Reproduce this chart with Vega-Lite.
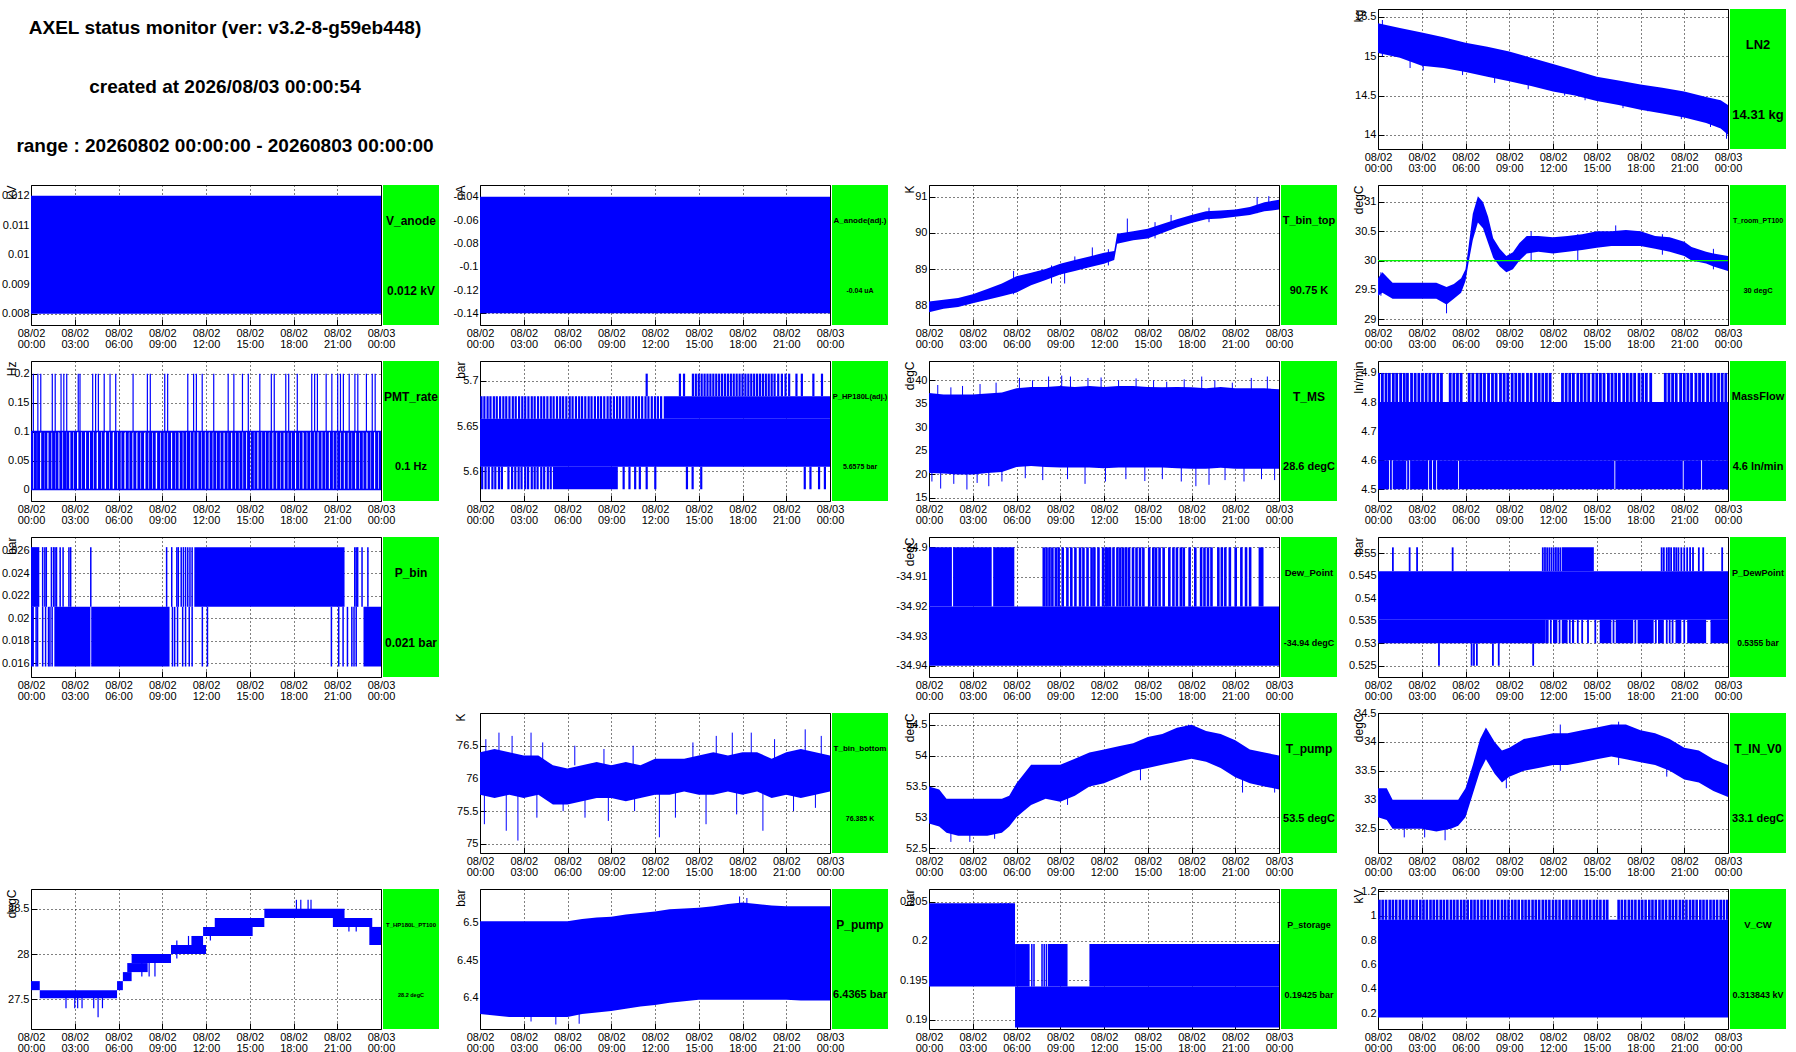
{
  "$schema": "https://vega.github.io/schema/vega-lite/v6.json",
  "background": "white",
  "padding": {"left": 0, "top": 3, "right": 0, "bottom": 0},
  "datasets": {
    "head": [
      {"line": 1, "text": "AXEL status monitor (ver: v3.2-8-g59eb448)"},
      {"line": 2, "text": "created at 2026/08/03 00:00:54"},
      {"line": 3, "text": "range : 20260802 00:00:00 - 20260803 00:00:00"}
    ],
    "info": [
      {"p": "LN2", "name": "LN2", "reading": "14.31 kg"},
      {"p": "V_anode", "name": "V_anode", "reading": "0.012 kV"},
      {"p": "A_anode", "name": "A_anode(adj.)", "reading": "-0.04 uA"},
      {"p": "T_bin_top", "name": "T_bin_top", "reading": "90.75 K"},
      {"p": "T_room", "name": "T_room_PT100", "reading": "30 degC"},
      {"p": "PMT_rate", "name": "PMT_rate", "reading": "0.1 Hz"},
      {"p": "P_HP180L", "name": "P_HP180L(adj.)", "reading": "5.6575 bar"},
      {"p": "T_MS", "name": "T_MS", "reading": "28.6 degC"},
      {"p": "MassFlow", "name": "MassFlow", "reading": "4.6 ln/min"},
      {"p": "P_bin", "name": "P_bin", "reading": "0.021 bar"},
      {"p": "Dew_Point", "name": "Dew_Point", "reading": "-34.94 degC"},
      {"p": "P_DewPoint", "name": "P_DewPoint", "reading": "0.5355 bar"},
      {"p": "T_bin_bottom", "name": "T_bin_bottom", "reading": "76.385 K"},
      {"p": "T_pump", "name": "T_pump", "reading": "53.5 degC"},
      {"p": "T_IN_V0", "name": "T_IN_V0", "reading": "33.1 degC"},
      {"p": "T_HP180L", "name": "T_HP180L_PT100", "reading": "28.2 degC"},
      {"p": "P_pump", "name": "P_pump", "reading": "6.4365 bar"},
      {"p": "P_storage", "name": "P_storage", "reading": "0.19425 bar"},
      {"p": "V_CW", "name": "V_CW", "reading": "0.313843 kV"}
    ],
    "band": [
      {"p": "LN2", "h": [0,1.5,3,4.5,6,7.5,9,10.5,12,13.5,15,16.5,18,19.5,21,22.5,23.5,24],
        "lo": [15.04,14.98,14.88,14.85,14.80,14.74,14.68,14.62,14.55,14.50,14.43,14.38,14.32,14.27,14.22,14.15,14.08,14.00],
        "hi": [15.42,15.36,15.30,15.24,15.17,15.12,15.06,14.98,14.90,14.82,14.74,14.69,14.64,14.60,14.55,14.48,14.44,14.38]},
      {"p": "T_bin_top", "h": [0,1,2,3,4,5,6,7,8,9,10,11,12,12.7,12.9,14,15,16,17,18,19,20,21,22,23,24],
        "lo": [87.8,87.9,87.95,88.05,88.15,88.25,88.35,88.55,88.7,88.85,88.95,89.05,89.15,89.25,89.7,89.8,89.85,90.0,90.15,90.28,90.38,90.4,90.45,90.5,90.6,90.65],
        "hi": [88.1,88.15,88.2,88.3,88.45,88.6,88.8,88.9,89.0,89.15,89.25,89.35,89.45,89.5,89.98,90.05,90.12,90.25,90.38,90.5,90.6,90.62,90.65,90.72,90.85,90.92]},
      {"p": "T_room", "h": [0,0.3,1,2,3,4,4.7,5.2,5.7,6.0,6.2,6.5,6.85,7.2,7.55,7.9,8.35,8.8,9.25,9.7,10.2,11,12,13,14,15,16,17,18,19,20,21,21.5,22.5,23,24],
        "lo": [29.4,29.45,29.35,29.35,29.35,29.35,29.25,29.35,29.45,29.65,29.95,30.35,30.65,30.55,30.3,30.05,29.9,29.8,29.85,30.0,30.12,30.15,30.12,30.15,30.18,30.22,30.25,30.25,30.25,30.2,30.15,30.08,30.0,29.95,29.9,29.82],
        "hi": [29.7,29.8,29.62,29.62,29.62,29.62,29.55,29.6,29.7,29.85,30.22,30.8,31.1,31.0,30.75,30.38,30.2,30.08,30.14,30.3,30.42,30.42,30.4,30.42,30.45,30.5,30.5,30.52,30.5,30.42,30.4,30.32,30.23,30.15,30.12,30.08]},
      {"p": "T_MS", "h": [0,1,2,3,4,5,6,7,8,9,10,11,12,13,14,15,16,17,18,19,20,21,22,23,24],
        "lo": [20.3,20.2,20.0,20.0,20.3,20.5,21.6,21.8,21.6,21.5,21.5,21.5,21.3,21.5,21.5,21.5,21.5,21.3,21.2,21.2,21.4,21.2,21.2,21.2,21.2],
        "hi": [37.3,37.0,37.0,37.0,37.2,37.4,38.3,38.6,38.6,38.8,38.6,38.8,38.6,38.8,38.8,38.6,38.5,38.6,38.5,38.3,38.6,38.3,38.3,38.3,38.1]},
      {"p": "T_bin_bottom", "h": [0,1,2,3,4,5,6,7,8,9,10,11,12,13,14,15,16,17,18,19,20,21,22,23,24],
        "lo": [75.75,75.7,75.75,75.7,75.75,75.6,75.6,75.65,75.7,75.7,75.65,75.7,75.75,75.75,75.8,75.75,75.75,75.8,75.75,75.8,75.7,75.75,75.7,75.75,75.8],
        "hi": [76.4,76.45,76.4,76.35,76.35,76.2,76.15,76.2,76.25,76.2,76.25,76.2,76.3,76.3,76.3,76.35,76.4,76.35,76.4,76.4,76.3,76.4,76.45,76.4,76.35]},
      {"p": "T_pump", "h": [0,0.7,1.2,2,3,4,5,5.5,6,6.5,7,8,9,10,11,12,13,14,15,16,17,18,19,20,21,22,23,24],
        "lo": [52.9,52.85,52.75,52.7,52.7,52.7,52.75,52.85,53.0,53.1,53.2,53.3,53.25,53.35,53.5,53.55,53.65,53.75,53.8,53.85,53.9,53.95,53.9,53.8,53.65,53.55,53.5,53.45],
        "hi": [53.5,53.45,53.3,53.3,53.3,53.3,53.3,53.35,53.55,53.7,53.85,53.85,53.85,53.95,54.05,54.1,54.15,54.2,54.3,54.35,54.45,54.5,54.4,54.35,54.25,54.1,54.05,54.0]},
      {"p": "T_IN_V0", "h": [0,0.6,1,2,3,4,5,5.5,6,6.5,7,7.4,8,8.5,9,10,11,12,13,14,15,16,17,18,19,20,21,22,23,24],
        "lo": [32.7,32.65,32.5,32.5,32.5,32.45,32.5,32.55,32.7,33.1,33.5,33.7,33.45,33.3,33.4,33.5,33.55,33.6,33.6,33.65,33.7,33.75,33.7,33.65,33.6,33.5,33.35,33.3,33.15,33.05],
        "hi": [33.2,33.2,33.0,33.0,33.0,33.0,33.0,33.0,33.2,33.6,34.05,34.25,34.0,33.85,33.9,34.05,34.1,34.15,34.15,34.2,34.25,34.3,34.3,34.2,34.15,34.05,33.9,33.85,33.7,33.6]},
      {"p": "P_pump", "h": [0,1,2,3,4,5,6,7,8,9,10,11,12,13,14,15,16,17,18,19,20,21,22,23,24],
        "lo": [6.378,6.376,6.374,6.374,6.374,6.374,6.374,6.378,6.38,6.382,6.385,6.388,6.39,6.393,6.395,6.397,6.397,6.397,6.397,6.397,6.397,6.397,6.396,6.396,6.396],
        "hi": [6.502,6.502,6.502,6.502,6.502,6.502,6.502,6.505,6.507,6.508,6.511,6.513,6.515,6.518,6.519,6.52,6.522,6.525,6.527,6.525,6.523,6.522,6.522,6.522,6.522]}
    ],
    "block": [
      {"p": "V_anode", "h": [0], "h1": [24], "lo": [0.008], "hi": [0.012]},
      {"p": "A_anode", "h": [0], "h1": [24], "lo": [-0.14], "hi": [-0.04]},
      {"p": "P_HP180L", "h": [0,12.6,5.0], "h1": [24,24,9.45], "lo": [5.605,5.658,5.58], "hi": [5.658,5.683,5.605]},
      {"p": "MassFlow", "h": [0,0,0.82,1.01,2.0,2.2,3.5,3.77,4.05,5.55,16.27,20.96,22.22],
        "h1": [24,0.76,0.95,1.94,2.14,3.44,3.71,3.99,5.49,16.21,20.9,22.16,24],
        "lo": [4.6,4.5,4.5,4.5,4.5,4.5,4.5,4.5,4.5,4.5,4.5,4.5,4.5],
        "hi": [4.8,4.6,4.6,4.6,4.6,4.6,4.6,4.6,4.6,4.6,4.6,4.6,4.6]},
      {"p": "P_bin", "h": [0,11.2,0,1.6,4.13,22.8], "h1": [0.57,21.5,0.2,4.07,9.5,24],
        "lo": [0.021,0.021,0.0157,0.0157,0.0157,0.0157], "hi": [0.0263,0.0263,0.021,0.021,0.021,0.021]},
      {"p": "Dew_Point", "h": [0,0,1.65,4.4], "h1": [24,1.57,4.3,5.85],
        "lo": [-34.94,-34.92,-34.92,-34.92], "hi": [-34.92,-34.9,-34.9,-34.9]},
      {"p": "P_DewPoint", "h": [0,0,11.5,12.0,12.6,13.3,15.2,16.3,17.8,19.2,20.4,21.2,22.8,12.6],
        "h1": [24,11.5,11.7,12.3,13.0,13.45,16.0,17.5,18.9,19.6,20.8,22.5,24,14.8],
        "lo": [0.5352,0.53,0.53,0.53,0.53,0.53,0.53,0.53,0.53,0.53,0.53,0.53,0.53,0.546],
        "hi": [0.546,0.5352,0.5352,0.5352,0.5352,0.5352,0.5352,0.5352,0.5352,0.5352,0.5352,0.5352,0.5352,0.5513]},
      {"p": "V_CW", "h": [0], "h1": [24], "lo": [0.164], "hi": [0.967]},
      {"p": "P_storage", "h": [0,5.9,5.9,8.15,11.0], "h1": [5.9,24,6.9,9.5,24],
        "lo": [0.1942,0.189,0.1942,0.1942,0.1942], "hi": [0.2048,0.1942,0.1996,0.1996,0.1996]},
      {"p": "T_HP180L", "h": [0,0.6,5.9,6.3,6.6,6.9,9.6,11.0,11.8,12.6,16.0,20.7,23.2],
        "h1": [0.6,5.9,6.3,6.9,8.0,9.6,12.0,11.8,15.2,16.0,21.5,23.4,24],
        "lo": [27.6,27.51,27.6,27.7,27.8,27.9,28.0,28.1,28.2,28.3,28.4,28.3,28.1],
        "hi": [27.7,27.6,27.7,27.8,27.9,28.0,28.1,28.2,28.3,28.4,28.5,28.4,28.3]}
    ],
    "comb": [
      {"p": "PMT_rate", "lo": 0, "hi": 0.1, "h": [0.05,0.3,0.52,0.8,1.02,1.3,1.55,1.78,2.05,2.3,2.52,2.8,3.05,3.35,3.6,3.88,4.15,4.4,4.7,4.95,5.25,5.5,5.8,6.05,6.3,6.6,6.85,7.12,7.4,7.65,7.95,8.2,8.45,8.75,9.0,9.25,9.5,9.78,10.02,10.3,10.55,10.8,11.05,11.3,11.58,11.82,12.08,12.35,12.6,12.85,13.1,13.38,13.62,13.9,14.15,14.4,14.65,14.92,15.18,15.42,15.7,15.95,16.2,16.45,16.72,16.98,17.22,17.5,17.75,18.0,18.28,18.52,18.8,19.05,19.3,19.55,19.82,20.08,20.32,20.6,20.85,21.1,21.35,21.62,21.88,22.12,22.4,22.65,22.9,23.18,23.42,23.7,23.95]},
      {"p": "PMT_rate", "lo": 0.1, "hi": 0.2, "h": [0.16,0.47,0.67,1.46,1.66,2.06,2.25,2.45,3.24,3.36,4.23,4.43,4.62,5.02,5.42,5.81,7.0,7.98,8.18,9.17,9.37,10.75,11.15,11.34,11.74,12.53,13.52,13.91,14.5,14.9,15.69,16.48,16.68,17.47,17.67,18.26,19.25,19.45,19.64,20.24,20.63,21.03,21.22,21.42,21.82,22.21,22.41,23.0,23.4,23.6]},
      {"p": "P_HP180L", "lo": 5.658, "hi": 5.683, "h": [0.1,0.3,0.52,0.72,0.95,1.15,1.38,1.6,1.8,2.02,2.25,2.45,2.68,2.9,3.1,3.32,3.55,3.75,3.98,4.2,4.4,4.62,4.85,5.05,5.28,5.5,5.7,5.92,6.15,6.35,6.58,6.8,7.0,7.22,7.45,7.65,7.88,8.1,8.3,8.52,8.75,8.95,9.18,9.4,9.6,9.82,10.05,10.25,10.48,10.7,10.9,11.12,11.35,11.55,11.78,12.0,12.2,12.42]},
      {"p": "P_HP180L", "lo": 5.58, "hi": 5.605, "h": [0.15,0.38,0.6,0.85,1.05,1.3,1.5,1.95,2.2,2.42,2.65,2.85,3.1,3.3,3.55,3.75,3.95,4.2,4.4,4.65,4.85,9.85,10.25,10.64,10.96,11.43,12.02,14.19,14.58,15.17,22.27,22.66,23.25,23.65]},
      {"p": "P_HP180L", "lo": 5.683, "hi": 5.708, "h": [11.43,13.71,13.99,14.6,14.8,15.0,15.2,15.4,15.6,15.8,16.0,16.2,16.4,16.6,16.8,17.0,17.2,17.4,17.6,17.8,18.0,18.2,18.4,18.6,18.8,19.0,19.2,19.4,19.6,19.8,20.0,20.2,20.45,20.7,20.95,21.2,21.7,22.07,22.86,23.45]},
      {"p": "MassFlow", "lo": 4.8, "hi": 4.9, "h": [0.05,0.3,0.55,0.78,1.05,1.28,1.55,1.8,2.02,2.3,2.55,2.8,3.05,3.3,3.55,3.82,4.1,4.35,4.95,5.2,5.45,5.7,6.25,6.5,6.8,7.05,7.3,7.58,7.85,8.1,8.4,8.65,8.9,9.2,9.45,9.7,9.95,10.25,10.5,10.8,11.05,11.3,11.55,11.8,12.65,12.9,13.15,13.4,13.7,13.95,14.2,14.45,14.75,15.0,15.25,15.5,15.8,16.05,16.3,16.55,16.85,17.1,17.35,17.6,17.9,18.15,18.4,18.7,19.7,19.95,20.2,20.45,20.75,21.0,21.25,21.5,21.8,22.05,22.3,22.6,22.85,23.1,23.35,23.6,23.85]},
      {"p": "P_bin", "lo": 0.021, "hi": 0.0263, "h": [0.8,0.95,1.05,1.4,1.55,1.65,1.75,2.0,2.2,2.6,2.72,4.1,9.3,9.65,10.0,10.1,10.3,10.45,10.6,10.75,10.9,11.05,22.2,22.3,22.4,22.7,23.1]},
      {"p": "P_bin", "lo": 0.0157, "hi": 0.021, "h": [0.35,0.45,0.8,1.0,1.2,1.3,1.45,9.7,9.85,10.05,10.4,10.6,10.85,11.05,11.75,12.1,20.6,21.1,21.4,21.7,22.0,22.15,22.3]},
      {"p": "Dew_Point", "lo": -34.92, "hi": -34.9, "h": [7.87,8.06,8.26,8.46,8.7,8.89,9.17,9.49,9.76,10.04,10.36,10.59,10.87,11.15,11.34,11.62,11.94,12.13,12.25,12.41,12.65,12.92,13.12,13.32,13.52,13.72,13.99,14.23,14.47,14.7,15.1,15.38,15.57,15.81,16.09,16.48,16.76,17.0,17.27,17.47,17.87,18.26,18.66,18.89,19.13,19.37,19.84,20.08,20.32,20.63,21.03,21.42,21.74,22.02,22.69,22.85]},
      {"p": "P_DewPoint", "lo": 0.53, "hi": 0.5352, "h": [11.85,12.45,13.15,13.7,14.0,14.4,14.9,16.15,17.65,19.05,19.8,20.0,20.2,21.0]},
      {"p": "P_DewPoint", "lo": 0.546, "hi": 0.5513, "h": [1.02,2.17,2.68,5.12,11.3,11.45,11.6,11.75,11.9,12.05,12.2,12.35,12.5,19.45,19.6,19.8,19.95,20.1,20.3,20.45,20.6,20.8,21.0,21.2,21.4,21.6,22.0,22.3,23.6]},
      {"p": "P_DewPoint", "lo": 0.525, "hi": 0.53, "h": [4.18,6.42,6.58,6.78,7.88,8.28,10.64]},
      {"p": "V_CW", "lo": 0.967, "hi": 1.132, "h": [0.1,0.32,0.55,0.8,1.02,1.25,1.5,1.72,1.95,2.2,2.42,2.65,2.9,3.12,3.35,3.6,3.82,4.05,4.3,4.52,4.75,5.0,5.22,5.45,5.7,5.92,6.15,6.4,6.62,6.85,7.1,7.32,7.55,7.8,8.02,8.25,8.5,8.72,8.95,9.2,9.42,9.65,9.9,10.12,10.35,10.6,10.82,11.05,11.3,11.52,11.75,12.0,12.22,12.45,12.7,12.92,13.15,13.4,13.62,13.85,14.1,14.32,14.55,14.8,15.02,15.25,15.5,15.72,16.5,16.72,16.95,17.2,17.42,17.65,17.9,18.12,18.35,18.6,18.82,19.05,19.3,19.52,19.75,20.0,20.22,20.45,20.7,20.92,21.15,21.4,21.62,21.85,22.1,22.32,22.55,22.8,23.02,23.25,23.5,23.72,23.95]},
      {"p": "P_storage", "lo": 0.1996, "hi": 0.2048, "h": [4.9,5.2,5.45]},
      {"p": "P_storage", "lo": 0.1942, "hi": 0.1996, "h": [7.05,7.2,7.75,7.9,8.05]}
    ],
    "spike": [
      {"p": "LN2", "h": [0.3,2.2,3.1,5.8,8.0,10.3,12.8,14.2,16.8,18.5,20.8,22.8,23.9],
        "lo": [15.0,14.85,14.82,14.76,14.66,14.58,14.5,14.44,14.34,14.3,14.2,14.1,13.95],
        "hi": [15.46,15.22,15.12,15.05,14.95,14.85,14.72,14.62,14.52,14.48,14.4,14.3,14.2]},
      {"p": "T_bin_top", "h": [5.8,8.4,9.3,10.0,11.2,12.3,13.6,15.5,16.6,19.2,22.5,23.3],
        "lo": [88.3,88.6,88.6,89.0,89.2,89.1,89.8,89.85,90.1,90.3,90.55,90.7],
        "hi": [88.95,89.1,89.15,89.35,89.6,89.55,90.4,90.3,90.5,90.7,91.0,91.02]},
      {"p": "T_room", "h": [0.2,4.7,10.5,13.7,16.3,19.5,23.0],
        "lo": [29.4,29.1,30.0,30.0,30.3,30.1,29.85],
        "hi": [29.8,29.4,30.5,30.45,30.6,30.45,30.2]},
      {"p": "T_MS", "h": [0.6,1.5,2.3,3.5,4.6,6.2,7.1,8.2,9.1,9.7,10.9,11.8,13.0,14.2,15.4,16.3,17.5,18.7,19.6,20.8,22.1,23.2],
        "lo": [36,36,36,36,36,37,37,37,37,37,37,37,37,37,37,37,37,37,37,37,37,37],
        "hi": [39,38.5,38.8,39.2,39.5,40.5,40,40.8,41,40.8,40.5,40.6,40,40.4,40,39.7,40.2,40.8,40,39.5,40.5,40.8]},
      {"p": "T_MS", "h": [0.2,0.8,1.7,2.6,3.3,4.1,5.0,6.6,7.8,9.5,10.7,12.1,13.5,14.8,16.0,17.3,18.3,19.2,20.3,21.6,22.8,23.7],
        "lo": [18.5,17,18,16.8,18.2,17.5,18.5,19.2,18.8,19,18,18.5,19,18.6,19,18.5,17.5,17.8,18.8,18.5,19,18.8],
        "hi": [22,22,22,22,22,22,22,22,22,22,22,22,22,22,22,22,22,22,22,22,22,22]},
      {"p": "T_bin_bottom", "h": [0.4,1.3,2.2,3.5,4.3,6.5,8.5,10.5,14.6,16.2,17.3,18.6,20.2,22.3,23.4],
        "lo": [76.2,76.2,76.2,76.2,76.2,76.2,76.2,76.2,76.2,76.2,76.2,76.2,76.2,76.2,76.2],
        "hi": [76.6,76.7,76.65,76.7,76.55,76.5,76.45,76.5,76.55,76.65,76.7,76.7,76.6,76.75,76.65]},
      {"p": "T_bin_bottom", "h": [0.3,1.8,2.6,3.9,5.7,7.2,8.8,10.6,12.3,13.4,15.5,17.6,19.4,21.5,23.0],
        "lo": [75.3,75.2,75.05,75.4,75.5,75.4,75.35,75.5,75.1,75.4,75.3,75.45,75.2,75.5,75.55],
        "hi": [75.9,75.9,75.9,75.9,75.9,75.9,75.9,75.9,75.9,75.9,75.9,75.9,75.9,75.9,75.9]},
      {"p": "T_pump", "h": [1.5,2.8,4.5,9.5,14.5,17.8,21.5,23.7],
        "lo": [52.6,52.6,52.65,53.2,53.6,54.2,53.4,53.4],
        "hi": [53.0,52.9,53.0,53.6,54.0,54.5,53.7,53.7]},
      {"p": "T_IN_V0", "h": [1.8,3.2,4.6,8.8,12.5,16.5,19.8],
        "lo": [32.35,32.35,32.3,33.2,33.5,33.6,33.4],
        "hi": [32.7,32.7,32.6,33.5,34.3,34.35,33.7]},
      {"p": "T_HP180L", "h": [2.4,3.0,3.2,3.5,4.3,4.6,4.9,7.6,8.1,8.5,10.0,10.8,12.3,14.2,18.2,18.5,19.0,19.2,21.8,22.3],
        "lo": [27.4,27.4,27.4,27.4,27.4,27.3,27.4,27.75,27.75,27.75,27.95,28.05,28.15,28.2,28.45,28.45,28.45,28.45,28.25,28.25],
        "hi": [27.55,27.55,27.55,27.55,27.55,27.55,27.55,27.9,27.9,27.9,28.15,28.2,28.3,28.35,28.6,28.6,28.6,28.6,28.4,28.4]},
      {"p": "P_pump", "h": [3.5,5.2,6.8,17.8,18.3],
        "lo": [6.368,6.364,6.365,6.5,6.5],
        "hi": [6.39,6.39,6.39,6.535,6.533]}
    ],
    "level": [
      {"p": "PMT_rate", "h": [0,0], "h1": [24,24], "lo": [0.1,0]}
    ],
    "ref": [
      {"p": "T_room", "h": [0], "h1": [24], "lo": [30]}
    ]
  },
  "columns": 11,
  "bounds": "flush",
  "spacing": {"row": 36, "column": 2},
  "concat": [
    {"width": 350, "height": 140, "data": {"name": "head"},
      "mark": {"type": "text", "fontSize": 19, "fontWeight": "bold", "baseline": "alphabetic", "dx": 19},
      "encoding": {
        "y": {"field": "line", "type": "quantitative", "scale": {"domain": [0.568, 2.949], "reverse": true, "nice": false, "zero": false}, "axis": null},
        "text": {"field": "text"}
      }},
    {"width": 56, "height": 1, "data": {"values": [{}]}, "mark": {"type": "text", "text": ""}},
    {"width": 37, "height": 1, "data": {"values": [{}]}, "mark": {"type": "text", "text": ""}},
    {"width": 1, "height": 1, "data": {"values": [{}]}, "mark": {"type": "text", "text": ""}},
    {"width": 1, "height": 1, "data": {"values": [{}]}, "mark": {"type": "text", "text": ""}},
    {"width": 37, "height": 1, "data": {"values": [{}]}, "mark": {"type": "text", "text": ""}},
    {"width": 1, "height": 1, "data": {"values": [{}]}, "mark": {"type": "text", "text": ""}},
    {"width": 1, "height": 1, "data": {"values": [{}]}, "mark": {"type": "text", "text": ""}},
    {"width": 37, "height": 1, "data": {"values": [{}]}, "mark": {"type": "text", "text": ""}},
    {"width": 350, "height": 140, "view": {"stroke": "#000000"},
      "encoding": {
        "x": {"field": "h", "type": "quantitative", "scale": {"domain": [0, 24], "nice": false, "zero": false}, "axis": {"values": [0,3,6,9,12,15,18,21,24], "title": null, "labelExpr": "[datum.value < 24 ? '08/02' : '08/03', (datum.value % 24 < 10 ? '0' : '') + (datum.value % 24) + ':00']"}},
        "y": {"field": "lo", "type": "quantitative", "scale": {"domain": [13.82, 15.6], "nice": false, "zero": false}, "axis": {"values": [14,14.5,15,15.5], "format": "~g", "title": "kg"}}
      },
      "layer": [
        {"data": {"name": "band"}, "transform": [{"filter": "datum.p=='LN2'"}, {"flatten": ["h","lo","hi"]}], "mark": {"type": "area", "color": "#0000ff", "clip": true}, "encoding": {"y2": {"field": "hi"}}},
        {"data": {"name": "spike"}, "transform": [{"filter": "datum.p=='LN2'"}, {"flatten": ["h","lo","hi"]}], "mark": {"type": "rule", "color": "#0000ff", "strokeWidth": 1, "clip": true}, "encoding": {"y2": {"field": "hi"}}}
      ]},
    {"width": 56, "height": 140, "view": {"fill": "#00ff00", "stroke": null}, "data": {"name": "info"}, "transform": [{"filter": "datum.p=='LN2'"}],
      "layer": [
        {"mark": {"type": "text", "fontWeight": "bold", "fontSize": 13, "dy": -34}, "encoding": {"text": {"field": "name"}}},
        {"mark": {"type": "text", "fontWeight": "bold", "fontSize": 13, "dy": 36}, "encoding": {"text": {"field": "reading"}}}
      ]},

    {"width": 350, "height": 140, "view": {"stroke": "#000000"},
      "encoding": {
        "x": {"field": "h", "type": "quantitative", "scale": {"domain": [0, 24], "nice": false, "zero": false}, "axis": {"values": [0,3,6,9,12,15,18,21,24], "title": null, "labelExpr": "[datum.value < 24 ? '08/02' : '08/03', (datum.value % 24 < 10 ? '0' : '') + (datum.value % 24) + ':00']"}},
        "y": {"field": "lo", "type": "quantitative", "scale": {"domain": [0.00762, 0.01236], "nice": false, "zero": false}, "axis": {"values": [0.008,0.009,0.01,0.011,0.012], "format": "~g", "title": "kV"}}
      },
      "layer": [
        {"data": {"name": "block"}, "transform": [{"filter": "datum.p=='V_anode'"}, {"flatten": ["h","h1","lo","hi"]}], "mark": {"type": "rect", "color": "#0000ff", "clip": true}, "encoding": {"x2": {"field": "h1"}, "y2": {"field": "hi"}}}
      ]},
    {"width": 56, "height": 140, "view": {"fill": "#00ff00", "stroke": null}, "data": {"name": "info"}, "transform": [{"filter": "datum.p=='V_anode'"}],
      "layer": [
        {"mark": {"type": "text", "fontWeight": "bold", "fontSize": 12, "dy": -34}, "encoding": {"text": {"field": "name"}}},
        {"mark": {"type": "text", "fontWeight": "bold", "fontSize": 12, "dy": 36}, "encoding": {"text": {"field": "reading"}}}
      ]},
    {"width": 37, "height": 1, "data": {"values": [{}]}, "mark": {"type": "text", "text": ""}},
    {"width": 350, "height": 140, "view": {"stroke": "#000000"},
      "encoding": {
        "x": {"field": "h", "type": "quantitative", "scale": {"domain": [0, 24], "nice": false, "zero": false}, "axis": {"values": [0,3,6,9,12,15,18,21,24], "title": null, "labelExpr": "[datum.value < 24 ? '08/02' : '08/03', (datum.value % 24 < 10 ? '0' : '') + (datum.value % 24) + ':00']"}},
        "y": {"field": "lo", "type": "quantitative", "scale": {"domain": [-0.15, -0.03], "nice": false, "zero": false}, "axis": {"values": [-0.14,-0.12,-0.1,-0.08,-0.06,-0.04], "format": "~g", "title": "uA"}}
      },
      "layer": [
        {"data": {"name": "block"}, "transform": [{"filter": "datum.p=='A_anode'"}, {"flatten": ["h","h1","lo","hi"]}], "mark": {"type": "rect", "color": "#0000ff", "clip": true}, "encoding": {"x2": {"field": "h1"}, "y2": {"field": "hi"}}}
      ]},
    {"width": 56, "height": 140, "view": {"fill": "#00ff00", "stroke": null}, "data": {"name": "info"}, "transform": [{"filter": "datum.p=='A_anode'"}],
      "layer": [
        {"mark": {"type": "text", "fontWeight": "bold", "fontSize": 8, "dy": -34}, "encoding": {"text": {"field": "name"}}},
        {"mark": {"type": "text", "fontWeight": "bold", "fontSize": 7, "dy": 36}, "encoding": {"text": {"field": "reading"}}}
      ]},
    {"width": 37, "height": 1, "data": {"values": [{}]}, "mark": {"type": "text", "text": ""}},
    {"width": 350, "height": 140, "view": {"stroke": "#000000"},
      "encoding": {
        "x": {"field": "h", "type": "quantitative", "scale": {"domain": [0, 24], "nice": false, "zero": false}, "axis": {"values": [0,3,6,9,12,15,18,21,24], "title": null, "labelExpr": "[datum.value < 24 ? '08/02' : '08/03', (datum.value % 24 < 10 ? '0' : '') + (datum.value % 24) + ':00']"}},
        "y": {"field": "lo", "type": "quantitative", "scale": {"domain": [87.45, 91.33], "nice": false, "zero": false}, "axis": {"values": [88,89,90,91], "format": "~g", "title": "K"}}
      },
      "layer": [
        {"data": {"name": "band"}, "transform": [{"filter": "datum.p=='T_bin_top'"}, {"flatten": ["h","lo","hi"]}], "mark": {"type": "area", "color": "#0000ff", "clip": true}, "encoding": {"y2": {"field": "hi"}}},
        {"data": {"name": "spike"}, "transform": [{"filter": "datum.p=='T_bin_top'"}, {"flatten": ["h","lo","hi"]}], "mark": {"type": "rule", "color": "#0000ff", "strokeWidth": 1, "clip": true}, "encoding": {"y2": {"field": "hi"}}}
      ]},
    {"width": 56, "height": 140, "view": {"fill": "#00ff00", "stroke": null}, "data": {"name": "info"}, "transform": [{"filter": "datum.p=='T_bin_top'"}],
      "layer": [
        {"mark": {"type": "text", "fontWeight": "bold", "fontSize": 11, "dy": -34}, "encoding": {"text": {"field": "name"}}},
        {"mark": {"type": "text", "fontWeight": "bold", "fontSize": 11, "dy": 36}, "encoding": {"text": {"field": "reading"}}}
      ]},
    {"width": 37, "height": 1, "data": {"values": [{}]}, "mark": {"type": "text", "text": ""}},
    {"width": 350, "height": 140, "view": {"stroke": "#000000"},
      "encoding": {
        "x": {"field": "h", "type": "quantitative", "scale": {"domain": [0, 24], "nice": false, "zero": false}, "axis": {"values": [0,3,6,9,12,15,18,21,24], "title": null, "labelExpr": "[datum.value < 24 ? '08/02' : '08/03', (datum.value % 24 < 10 ? '0' : '') + (datum.value % 24) + ':00']"}},
        "y": {"field": "lo", "type": "quantitative", "scale": {"domain": [28.9, 31.29], "nice": false, "zero": false}, "axis": {"values": [29,29.5,30,30.5,31], "format": "~g", "title": "degC"}}
      },
      "layer": [
        {"data": {"name": "band"}, "transform": [{"filter": "datum.p=='T_room'"}, {"flatten": ["h","lo","hi"]}], "mark": {"type": "area", "color": "#0000ff", "clip": true}, "encoding": {"y2": {"field": "hi"}}},
        {"data": {"name": "spike"}, "transform": [{"filter": "datum.p=='T_room'"}, {"flatten": ["h","lo","hi"]}], "mark": {"type": "rule", "color": "#0000ff", "strokeWidth": 1, "clip": true}, "encoding": {"y2": {"field": "hi"}}},
        {"data": {"name": "ref"}, "transform": [{"filter": "datum.p=='T_room'"}, {"flatten": ["h","h1","lo"]}], "mark": {"type": "rule", "color": "#00ff00", "strokeWidth": 1.2, "clip": true}, "encoding": {"x2": {"field": "h1"}}}
      ]},
    {"width": 56, "height": 140, "view": {"fill": "#00ff00", "stroke": null}, "data": {"name": "info"}, "transform": [{"filter": "datum.p=='T_room'"}],
      "layer": [
        {"mark": {"type": "text", "fontWeight": "bold", "fontSize": 7, "dy": -34}, "encoding": {"text": {"field": "name"}}},
        {"mark": {"type": "text", "fontWeight": "bold", "fontSize": 7.5, "dy": 36}, "encoding": {"text": {"field": "reading"}}}
      ]},

    {"width": 350, "height": 140, "view": {"stroke": "#000000"},
      "encoding": {
        "x": {"field": "h", "type": "quantitative", "scale": {"domain": [0, 24], "nice": false, "zero": false}, "axis": {"values": [0,3,6,9,12,15,18,21,24], "title": null, "labelExpr": "[datum.value < 24 ? '08/02' : '08/03', (datum.value % 24 < 10 ? '0' : '') + (datum.value % 24) + ':00']"}},
        "y": {"field": "lo", "type": "quantitative", "scale": {"domain": [-0.02, 0.222], "nice": false, "zero": false}, "axis": {"values": [0,0.05,0.1,0.15,0.2], "format": "~g", "title": "Hz"}}
      },
      "layer": [
        {"data": {"name": "level"}, "transform": [{"filter": "datum.p=='PMT_rate'"}, {"flatten": ["h","h1","lo"]}], "mark": {"type": "rule", "color": "#0000ff", "strokeWidth": 1.5, "clip": true}, "encoding": {"x2": {"field": "h1"}}},
        {"data": {"name": "comb"}, "transform": [{"filter": "datum.p=='PMT_rate' && datum.lo == 0"}, {"flatten": ["h"]}], "mark": {"type": "rule", "color": "#0000ff", "strokeWidth": 3, "clip": true}, "encoding": {"y2": {"field": "hi"}}},
        {"data": {"name": "comb"}, "transform": [{"filter": "datum.p=='PMT_rate' && datum.lo > 0"}, {"flatten": ["h"]}], "mark": {"type": "rule", "color": "#0000ff", "strokeWidth": 1.2, "clip": true}, "encoding": {"y2": {"field": "hi"}}}
      ]},
    {"width": 56, "height": 140, "view": {"fill": "#00ff00", "stroke": null}, "data": {"name": "info"}, "transform": [{"filter": "datum.p=='PMT_rate'"}],
      "layer": [
        {"mark": {"type": "text", "fontWeight": "bold", "fontSize": 12, "dy": -34}, "encoding": {"text": {"field": "name"}}},
        {"mark": {"type": "text", "fontWeight": "bold", "fontSize": 11, "dy": 36}, "encoding": {"text": {"field": "reading"}}}
      ]},
    {"width": 37, "height": 1, "data": {"values": [{}]}, "mark": {"type": "text", "text": ""}},
    {"width": 350, "height": 140, "view": {"stroke": "#000000"},
      "encoding": {
        "x": {"field": "h", "type": "quantitative", "scale": {"domain": [0, 24], "nice": false, "zero": false}, "axis": {"values": [0,3,6,9,12,15,18,21,24], "title": null, "labelExpr": "[datum.value < 24 ? '08/02' : '08/03', (datum.value % 24 < 10 ? '0' : '') + (datum.value % 24) + ':00']"}},
        "y": {"field": "lo", "type": "quantitative", "scale": {"domain": [5.567, 5.722], "nice": false, "zero": false}, "axis": {"values": [5.6,5.65,5.7], "format": "~g", "title": "bar"}}
      },
      "layer": [
        {"data": {"name": "block"}, "transform": [{"filter": "datum.p=='P_HP180L'"}, {"flatten": ["h","h1","lo","hi"]}], "mark": {"type": "rect", "color": "#0000ff", "clip": true}, "encoding": {"x2": {"field": "h1"}, "y2": {"field": "hi"}}},
        {"data": {"name": "comb"}, "transform": [{"filter": "datum.p=='P_HP180L'"}, {"flatten": ["h"]}], "mark": {"type": "rule", "color": "#0000ff", "strokeWidth": 2.2, "clip": true}, "encoding": {"y2": {"field": "hi"}}}
      ]},
    {"width": 56, "height": 140, "view": {"fill": "#00ff00", "stroke": null}, "data": {"name": "info"}, "transform": [{"filter": "datum.p=='P_HP180L'"}],
      "layer": [
        {"mark": {"type": "text", "fontWeight": "bold", "fontSize": 7.5, "dy": -34}, "encoding": {"text": {"field": "name"}}},
        {"mark": {"type": "text", "fontWeight": "bold", "fontSize": 7, "dy": 36}, "encoding": {"text": {"field": "reading"}}}
      ]},
    {"width": 37, "height": 1, "data": {"values": [{}]}, "mark": {"type": "text", "text": ""}},
    {"width": 350, "height": 140, "view": {"stroke": "#000000"},
      "encoding": {
        "x": {"field": "h", "type": "quantitative", "scale": {"domain": [0, 24], "nice": false, "zero": false}, "axis": {"values": [0,3,6,9,12,15,18,21,24], "title": null, "labelExpr": "[datum.value < 24 ? '08/02' : '08/03', (datum.value % 24 < 10 ? '0' : '') + (datum.value % 24) + ':00']"}},
        "y": {"field": "lo", "type": "quantitative", "scale": {"domain": [14.36, 44.1], "nice": false, "zero": false}, "axis": {"values": [15,20,25,30,35,40], "format": "~g", "title": "degC"}}
      },
      "layer": [
        {"data": {"name": "band"}, "transform": [{"filter": "datum.p=='T_MS'"}, {"flatten": ["h","lo","hi"]}], "mark": {"type": "area", "color": "#0000ff", "clip": true}, "encoding": {"y2": {"field": "hi"}}},
        {"data": {"name": "spike"}, "transform": [{"filter": "datum.p=='T_MS'"}, {"flatten": ["h","lo","hi"]}], "mark": {"type": "rule", "color": "#0000ff", "strokeWidth": 1, "clip": true}, "encoding": {"y2": {"field": "hi"}}}
      ]},
    {"width": 56, "height": 140, "view": {"fill": "#00ff00", "stroke": null}, "data": {"name": "info"}, "transform": [{"filter": "datum.p=='T_MS'"}],
      "layer": [
        {"mark": {"type": "text", "fontWeight": "bold", "fontSize": 12, "dy": -34}, "encoding": {"text": {"field": "name"}}},
        {"mark": {"type": "text", "fontWeight": "bold", "fontSize": 11, "dy": 36}, "encoding": {"text": {"field": "reading"}}}
      ]},
    {"width": 37, "height": 1, "data": {"values": [{}]}, "mark": {"type": "text", "text": ""}},
    {"width": 350, "height": 140, "view": {"stroke": "#000000"},
      "encoding": {
        "x": {"field": "h", "type": "quantitative", "scale": {"domain": [0, 24], "nice": false, "zero": false}, "axis": {"values": [0,3,6,9,12,15,18,21,24], "title": null, "labelExpr": "[datum.value < 24 ? '08/02' : '08/03', (datum.value % 24 < 10 ? '0' : '') + (datum.value % 24) + ':00']"}},
        "y": {"field": "lo", "type": "quantitative", "scale": {"domain": [4.46, 4.941], "nice": false, "zero": false}, "axis": {"values": [4.5,4.6,4.7,4.8,4.9], "format": "~g", "title": "ln/min"}}
      },
      "layer": [
        {"data": {"name": "block"}, "transform": [{"filter": "datum.p=='MassFlow'"}, {"flatten": ["h","h1","lo","hi"]}], "mark": {"type": "rect", "color": "#0000ff", "clip": true}, "encoding": {"x2": {"field": "h1"}, "y2": {"field": "hi"}}},
        {"data": {"name": "comb"}, "transform": [{"filter": "datum.p=='MassFlow'"}, {"flatten": ["h"]}], "mark": {"type": "rule", "color": "#0000ff", "strokeWidth": 2.8, "clip": true}, "encoding": {"y2": {"field": "hi"}}}
      ]},
    {"width": 56, "height": 140, "view": {"fill": "#00ff00", "stroke": null}, "data": {"name": "info"}, "transform": [{"filter": "datum.p=='MassFlow'"}],
      "layer": [
        {"mark": {"type": "text", "fontWeight": "bold", "fontSize": 11, "dy": -34}, "encoding": {"text": {"field": "name"}}},
        {"mark": {"type": "text", "fontWeight": "bold", "fontSize": 11, "dy": 36}, "encoding": {"text": {"field": "reading"}}}
      ]},

    {"width": 350, "height": 140, "view": {"stroke": "#000000"},
      "encoding": {
        "x": {"field": "h", "type": "quantitative", "scale": {"domain": [0, 24], "nice": false, "zero": false}, "axis": {"values": [0,3,6,9,12,15,18,21,24], "title": null, "labelExpr": "[datum.value < 24 ? '08/02' : '08/03', (datum.value % 24 < 10 ? '0' : '') + (datum.value % 24) + ':00']"}},
        "y": {"field": "lo", "type": "quantitative", "scale": {"domain": [0.01477, 0.0272], "nice": false, "zero": false}, "axis": {"values": [0.016,0.018,0.02,0.022,0.024,0.026], "format": "~g", "title": "bar"}}
      },
      "layer": [
        {"data": {"name": "block"}, "transform": [{"filter": "datum.p=='P_bin'"}, {"flatten": ["h","h1","lo","hi"]}], "mark": {"type": "rect", "color": "#0000ff", "clip": true}, "encoding": {"x2": {"field": "h1"}, "y2": {"field": "hi"}}},
        {"data": {"name": "comb"}, "transform": [{"filter": "datum.p=='P_bin'"}, {"flatten": ["h"]}], "mark": {"type": "rule", "color": "#0000ff", "strokeWidth": 1.5, "clip": true}, "encoding": {"y2": {"field": "hi"}}}
      ]},
    {"width": 56, "height": 140, "view": {"fill": "#00ff00", "stroke": null}, "data": {"name": "info"}, "transform": [{"filter": "datum.p=='P_bin'"}],
      "layer": [
        {"mark": {"type": "text", "fontWeight": "bold", "fontSize": 12, "dy": -34}, "encoding": {"text": {"field": "name"}}},
        {"mark": {"type": "text", "fontWeight": "bold", "fontSize": 12, "dy": 36}, "encoding": {"text": {"field": "reading"}}}
      ]},
    {"width": 37, "height": 1, "data": {"values": [{}]}, "mark": {"type": "text", "text": ""}},
    {"width": 1, "height": 1, "data": {"values": [{}]}, "mark": {"type": "text", "text": ""}},
    {"width": 1, "height": 1, "data": {"values": [{}]}, "mark": {"type": "text", "text": ""}},
    {"width": 37, "height": 1, "data": {"values": [{}]}, "mark": {"type": "text", "text": ""}},
    {"width": 350, "height": 140, "view": {"stroke": "#000000"},
      "encoding": {
        "x": {"field": "h", "type": "quantitative", "scale": {"domain": [0, 24], "nice": false, "zero": false}, "axis": {"values": [0,3,6,9,12,15,18,21,24], "title": null, "labelExpr": "[datum.value < 24 ? '08/02' : '08/03', (datum.value % 24 < 10 ? '0' : '') + (datum.value % 24) + ':00']"}},
        "y": {"field": "lo", "type": "quantitative", "scale": {"domain": [-34.9438, -34.8965], "nice": false, "zero": false}, "axis": {"values": [-34.94,-34.93,-34.92,-34.91,-34.9], "format": "~g", "title": "degC"}}
      },
      "layer": [
        {"data": {"name": "block"}, "transform": [{"filter": "datum.p=='Dew_Point'"}, {"flatten": ["h","h1","lo","hi"]}], "mark": {"type": "rect", "color": "#0000ff", "clip": true}, "encoding": {"x2": {"field": "h1"}, "y2": {"field": "hi"}}},
        {"data": {"name": "comb"}, "transform": [{"filter": "datum.p=='Dew_Point'"}, {"flatten": ["h"]}], "mark": {"type": "rule", "color": "#0000ff", "strokeWidth": 2.6, "clip": true}, "encoding": {"y2": {"field": "hi"}}}
      ]},
    {"width": 56, "height": 140, "view": {"fill": "#00ff00", "stroke": null}, "data": {"name": "info"}, "transform": [{"filter": "datum.p=='Dew_Point'"}],
      "layer": [
        {"mark": {"type": "text", "fontWeight": "bold", "fontSize": 9.5, "dy": -34}, "encoding": {"text": {"field": "name"}}},
        {"mark": {"type": "text", "fontWeight": "bold", "fontSize": 9, "dy": 36}, "encoding": {"text": {"field": "reading"}}}
      ]},
    {"width": 37, "height": 1, "data": {"values": [{}]}, "mark": {"type": "text", "text": ""}},
    {"width": 350, "height": 140, "view": {"stroke": "#000000"},
      "encoding": {
        "x": {"field": "h", "type": "quantitative", "scale": {"domain": [0, 24], "nice": false, "zero": false}, "axis": {"values": [0,3,6,9,12,15,18,21,24], "title": null, "labelExpr": "[datum.value < 24 ? '08/02' : '08/03', (datum.value % 24 < 10 ? '0' : '') + (datum.value % 24) + ':00']"}},
        "y": {"field": "lo", "type": "quantitative", "scale": {"domain": [0.5225, 0.5536], "nice": false, "zero": false}, "axis": {"values": [0.525,0.53,0.535,0.54,0.545,0.55], "format": "~g", "title": "bar"}}
      },
      "layer": [
        {"data": {"name": "block"}, "transform": [{"filter": "datum.p=='P_DewPoint'"}, {"flatten": ["h","h1","lo","hi"]}], "mark": {"type": "rect", "color": "#0000ff", "clip": true}, "encoding": {"x2": {"field": "h1"}, "y2": {"field": "hi"}}},
        {"data": {"name": "comb"}, "transform": [{"filter": "datum.p=='P_DewPoint'"}, {"flatten": ["h"]}], "mark": {"type": "rule", "color": "#0000ff", "strokeWidth": 1.8, "clip": true}, "encoding": {"y2": {"field": "hi"}}}
      ]},
    {"width": 56, "height": 140, "view": {"fill": "#00ff00", "stroke": null}, "data": {"name": "info"}, "transform": [{"filter": "datum.p=='P_DewPoint'"}],
      "layer": [
        {"mark": {"type": "text", "fontWeight": "bold", "fontSize": 9, "dy": -34}, "encoding": {"text": {"field": "name"}}},
        {"mark": {"type": "text", "fontWeight": "bold", "fontSize": 8.5, "dy": 36}, "encoding": {"text": {"field": "reading"}}}
      ]},

    {"width": 1, "height": 1, "data": {"values": [{}]}, "mark": {"type": "text", "text": ""}},
    {"width": 1, "height": 1, "data": {"values": [{}]}, "mark": {"type": "text", "text": ""}},
    {"width": 37, "height": 1, "data": {"values": [{}]}, "mark": {"type": "text", "text": ""}},
    {"width": 350, "height": 140, "view": {"stroke": "#000000"},
      "encoding": {
        "x": {"field": "h", "type": "quantitative", "scale": {"domain": [0, 24], "nice": false, "zero": false}, "axis": {"values": [0,3,6,9,12,15,18,21,24], "title": null, "labelExpr": "[datum.value < 24 ? '08/02' : '08/03', (datum.value % 24 < 10 ? '0' : '') + (datum.value % 24) + ':00']"}},
        "y": {"field": "lo", "type": "quantitative", "scale": {"domain": [74.86, 77.0], "nice": false, "zero": false}, "axis": {"values": [75,75.5,76,76.5], "format": "~g", "title": "K"}}
      },
      "layer": [
        {"data": {"name": "band"}, "transform": [{"filter": "datum.p=='T_bin_bottom'"}, {"flatten": ["h","lo","hi"]}], "mark": {"type": "area", "color": "#0000ff", "clip": true}, "encoding": {"y2": {"field": "hi"}}},
        {"data": {"name": "spike"}, "transform": [{"filter": "datum.p=='T_bin_bottom'"}, {"flatten": ["h","lo","hi"]}], "mark": {"type": "rule", "color": "#0000ff", "strokeWidth": 1, "clip": true}, "encoding": {"y2": {"field": "hi"}}}
      ]},
    {"width": 56, "height": 140, "view": {"fill": "#00ff00", "stroke": null}, "data": {"name": "info"}, "transform": [{"filter": "datum.p=='T_bin_bottom'"}],
      "layer": [
        {"mark": {"type": "text", "fontWeight": "bold", "fontSize": 8, "dy": -34}, "encoding": {"text": {"field": "name"}}},
        {"mark": {"type": "text", "fontWeight": "bold", "fontSize": 7, "dy": 36}, "encoding": {"text": {"field": "reading"}}}
      ]},
    {"width": 37, "height": 1, "data": {"values": [{}]}, "mark": {"type": "text", "text": ""}},
    {"width": 350, "height": 140, "view": {"stroke": "#000000"},
      "encoding": {
        "x": {"field": "h", "type": "quantitative", "scale": {"domain": [0, 24], "nice": false, "zero": false}, "axis": {"values": [0,3,6,9,12,15,18,21,24], "title": null, "labelExpr": "[datum.value < 24 ? '08/02' : '08/03', (datum.value % 24 < 10 ? '0' : '') + (datum.value % 24) + ':00']"}},
        "y": {"field": "lo", "type": "quantitative", "scale": {"domain": [52.42, 54.69], "nice": false, "zero": false}, "axis": {"values": [52.5,53,53.5,54,54.5], "format": "~g", "title": "degC"}}
      },
      "layer": [
        {"data": {"name": "band"}, "transform": [{"filter": "datum.p=='T_pump'"}, {"flatten": ["h","lo","hi"]}], "mark": {"type": "area", "color": "#0000ff", "clip": true}, "encoding": {"y2": {"field": "hi"}}},
        {"data": {"name": "spike"}, "transform": [{"filter": "datum.p=='T_pump'"}, {"flatten": ["h","lo","hi"]}], "mark": {"type": "rule", "color": "#0000ff", "strokeWidth": 1, "clip": true}, "encoding": {"y2": {"field": "hi"}}}
      ]},
    {"width": 56, "height": 140, "view": {"fill": "#00ff00", "stroke": null}, "data": {"name": "info"}, "transform": [{"filter": "datum.p=='T_pump'"}],
      "layer": [
        {"mark": {"type": "text", "fontWeight": "bold", "fontSize": 12, "dy": -34}, "encoding": {"text": {"field": "name"}}},
        {"mark": {"type": "text", "fontWeight": "bold", "fontSize": 11, "dy": 36}, "encoding": {"text": {"field": "reading"}}}
      ]},
    {"width": 37, "height": 1, "data": {"values": [{}]}, "mark": {"type": "text", "text": ""}},
    {"width": 350, "height": 140, "view": {"stroke": "#000000"},
      "encoding": {
        "x": {"field": "h", "type": "quantitative", "scale": {"domain": [0, 24], "nice": false, "zero": false}, "axis": {"values": [0,3,6,9,12,15,18,21,24], "title": null, "labelExpr": "[datum.value < 24 ? '08/02' : '08/03', (datum.value % 24 < 10 ? '0' : '') + (datum.value % 24) + ':00']"}},
        "y": {"field": "lo", "type": "quantitative", "scale": {"domain": [32.08, 34.5], "nice": false, "zero": false}, "axis": {"values": [32.5,33,33.5,34,34.5], "format": "~g", "title": "degC"}}
      },
      "layer": [
        {"data": {"name": "band"}, "transform": [{"filter": "datum.p=='T_IN_V0'"}, {"flatten": ["h","lo","hi"]}], "mark": {"type": "area", "color": "#0000ff", "clip": true}, "encoding": {"y2": {"field": "hi"}}},
        {"data": {"name": "spike"}, "transform": [{"filter": "datum.p=='T_IN_V0'"}, {"flatten": ["h","lo","hi"]}], "mark": {"type": "rule", "color": "#0000ff", "strokeWidth": 1, "clip": true}, "encoding": {"y2": {"field": "hi"}}}
      ]},
    {"width": 56, "height": 140, "view": {"fill": "#00ff00", "stroke": null}, "data": {"name": "info"}, "transform": [{"filter": "datum.p=='T_IN_V0'"}],
      "layer": [
        {"mark": {"type": "text", "fontWeight": "bold", "fontSize": 12, "dy": -34}, "encoding": {"text": {"field": "name"}}},
        {"mark": {"type": "text", "fontWeight": "bold", "fontSize": 11, "dy": 36}, "encoding": {"text": {"field": "reading"}}}
      ]},

    {"width": 350, "height": 140, "view": {"stroke": "#000000"},
      "encoding": {
        "x": {"field": "h", "type": "quantitative", "scale": {"domain": [0, 24], "nice": false, "zero": false}, "axis": {"values": [0,3,6,9,12,15,18,21,24], "title": null, "labelExpr": "[datum.value < 24 ? '08/02' : '08/03', (datum.value % 24 < 10 ? '0' : '') + (datum.value % 24) + ':00']"}},
        "y": {"field": "lo", "type": "quantitative", "scale": {"domain": [27.17, 28.72], "nice": false, "zero": false}, "axis": {"values": [27.5,28,28.5], "format": "~g", "title": "degC"}}
      },
      "layer": [
        {"data": {"name": "block"}, "transform": [{"filter": "datum.p=='T_HP180L'"}, {"flatten": ["h","h1","lo","hi"]}], "mark": {"type": "rect", "color": "#0000ff", "clip": true}, "encoding": {"x2": {"field": "h1"}, "y2": {"field": "hi"}}},
        {"data": {"name": "spike"}, "transform": [{"filter": "datum.p=='T_HP180L'"}, {"flatten": ["h","lo","hi"]}], "mark": {"type": "rule", "color": "#0000ff", "strokeWidth": 1.2, "clip": true}, "encoding": {"y2": {"field": "hi"}}}
      ]},
    {"width": 56, "height": 140, "view": {"fill": "#00ff00", "stroke": null}, "data": {"name": "info"}, "transform": [{"filter": "datum.p=='T_HP180L'"}],
      "layer": [
        {"mark": {"type": "text", "fontWeight": "bold", "fontSize": 6, "dy": -34}, "encoding": {"text": {"field": "name"}}},
        {"mark": {"type": "text", "fontWeight": "bold", "fontSize": 5.5, "dy": 36}, "encoding": {"text": {"field": "reading"}}}
      ]},
    {"width": 37, "height": 1, "data": {"values": [{}]}, "mark": {"type": "text", "text": ""}},
    {"width": 350, "height": 140, "view": {"stroke": "#000000"},
      "encoding": {
        "x": {"field": "h", "type": "quantitative", "scale": {"domain": [0, 24], "nice": false, "zero": false}, "axis": {"values": [0,3,6,9,12,15,18,21,24], "title": null, "labelExpr": "[datum.value < 24 ? '08/02' : '08/03', (datum.value % 24 < 10 ? '0' : '') + (datum.value % 24) + ':00']"}},
        "y": {"field": "lo", "type": "quantitative", "scale": {"domain": [6.358, 6.545], "nice": false, "zero": false}, "axis": {"values": [6.4,6.45,6.5], "format": "~g", "title": "bar"}}
      },
      "layer": [
        {"data": {"name": "band"}, "transform": [{"filter": "datum.p=='P_pump'"}, {"flatten": ["h","lo","hi"]}], "mark": {"type": "area", "color": "#0000ff", "clip": true}, "encoding": {"y2": {"field": "hi"}}},
        {"data": {"name": "spike"}, "transform": [{"filter": "datum.p=='P_pump'"}, {"flatten": ["h","lo","hi"]}], "mark": {"type": "rule", "color": "#0000ff", "strokeWidth": 1, "clip": true}, "encoding": {"y2": {"field": "hi"}}}
      ]},
    {"width": 56, "height": 140, "view": {"fill": "#00ff00", "stroke": null}, "data": {"name": "info"}, "transform": [{"filter": "datum.p=='P_pump'"}],
      "layer": [
        {"mark": {"type": "text", "fontWeight": "bold", "fontSize": 12, "dy": -34}, "encoding": {"text": {"field": "name"}}},
        {"mark": {"type": "text", "fontWeight": "bold", "fontSize": 11, "dy": 36}, "encoding": {"text": {"field": "reading"}}}
      ]},
    {"width": 37, "height": 1, "data": {"values": [{}]}, "mark": {"type": "text", "text": ""}},
    {"width": 350, "height": 140, "view": {"stroke": "#000000"},
      "encoding": {
        "x": {"field": "h", "type": "quantitative", "scale": {"domain": [0, 24], "nice": false, "zero": false}, "axis": {"values": [0,3,6,9,12,15,18,21,24], "title": null, "labelExpr": "[datum.value < 24 ? '08/02' : '08/03', (datum.value % 24 < 10 ? '0' : '') + (datum.value % 24) + ':00']"}},
        "y": {"field": "lo", "type": "quantitative", "scale": {"domain": [0.1888, 0.2066], "nice": false, "zero": false}, "axis": {"values": [0.19,0.195,0.2,0.205], "format": "~g", "title": "bar"}}
      },
      "layer": [
        {"data": {"name": "block"}, "transform": [{"filter": "datum.p=='P_storage'"}, {"flatten": ["h","h1","lo","hi"]}], "mark": {"type": "rect", "color": "#0000ff", "clip": true}, "encoding": {"x2": {"field": "h1"}, "y2": {"field": "hi"}}},
        {"data": {"name": "comb"}, "transform": [{"filter": "datum.p=='P_storage'"}, {"flatten": ["h"]}], "mark": {"type": "rule", "color": "#0000ff", "strokeWidth": 1.5, "clip": true}, "encoding": {"y2": {"field": "hi"}}}
      ]},
    {"width": 56, "height": 140, "view": {"fill": "#00ff00", "stroke": null}, "data": {"name": "info"}, "transform": [{"filter": "datum.p=='P_storage'"}],
      "layer": [
        {"mark": {"type": "text", "fontWeight": "bold", "fontSize": 9, "dy": -34}, "encoding": {"text": {"field": "name"}}},
        {"mark": {"type": "text", "fontWeight": "bold", "fontSize": 9, "dy": 36}, "encoding": {"text": {"field": "reading"}}}
      ]},
    {"width": 37, "height": 1, "data": {"values": [{}]}, "mark": {"type": "text", "text": ""}},
    {"width": 350, "height": 140, "view": {"stroke": "#000000"},
      "encoding": {
        "x": {"field": "h", "type": "quantitative", "scale": {"domain": [0, 24], "nice": false, "zero": false}, "axis": {"values": [0,3,6,9,12,15,18,21,24], "title": null, "labelExpr": "[datum.value < 24 ? '08/02' : '08/03', (datum.value % 24 < 10 ? '0' : '') + (datum.value % 24) + ':00']"}},
        "y": {"field": "lo", "type": "quantitative", "scale": {"domain": [0.07, 1.22], "nice": false, "zero": false}, "axis": {"values": [0.2,0.4,0.6,0.8,1,1.2], "format": "~g", "title": "kV"}}
      },
      "layer": [
        {"data": {"name": "block"}, "transform": [{"filter": "datum.p=='V_CW'"}, {"flatten": ["h","h1","lo","hi"]}], "mark": {"type": "rect", "color": "#0000ff", "clip": true}, "encoding": {"x2": {"field": "h1"}, "y2": {"field": "hi"}}},
        {"data": {"name": "comb"}, "transform": [{"filter": "datum.p=='V_CW'"}, {"flatten": ["h"]}], "mark": {"type": "rule", "color": "#0000ff", "strokeWidth": 2.6, "clip": true}, "encoding": {"y2": {"field": "hi"}}}
      ]},
    {"width": 56, "height": 140, "view": {"fill": "#00ff00", "stroke": null}, "data": {"name": "info"}, "transform": [{"filter": "datum.p=='V_CW'"}],
      "layer": [
        {"mark": {"type": "text", "fontWeight": "bold", "fontSize": 9.5, "dy": -34}, "encoding": {"text": {"field": "name"}}},
        {"mark": {"type": "text", "fontWeight": "bold", "fontSize": 9, "dy": 36}, "encoding": {"text": {"field": "reading"}}}
      ]}
  ],
  "config": {
    "font": "Liberation Sans",
    "view": {"stroke": null},
    "locale": {"number": {"decimal": ".", "thousands": ",", "grouping": [3], "currency": ["$", ""], "minus": "-"}},
    "text": {"color": "#000000"},
    "axis": {
      "grid": true,
      "gridColor": "#000000",
      "gridDash": [1, 3],
      "gridWidth": 1,
      "gridOpacity": 1,
      "domain": false,
      "ticks": true,
      "tickColor": "#000000",
      "tickSize": -6,
      "labelFont": "Liberation Sans",
      "labelFontSize": 11,
      "labelColor": "#000000",
      "titleFont": "Liberation Sans",
      "titleFontSize": 12,
      "titleFontWeight": "normal",
      "titleColor": "#000000",
      "labelOverlap": false,
      "labelFlush": false,
      "labelBound": false
    },
    "axisX": {"labelPadding": 8, "labelLineHeight": 11, "labelBaseline": "top", "labelAlign": "center"},
    "axisY": {"labelPadding": 8, "titleAngle": -90, "titleX": -16, "titleY": 0, "titleAlign": "right", "titleBaseline": "alphabetic", "titleAnchor": "end"}
  }
}
